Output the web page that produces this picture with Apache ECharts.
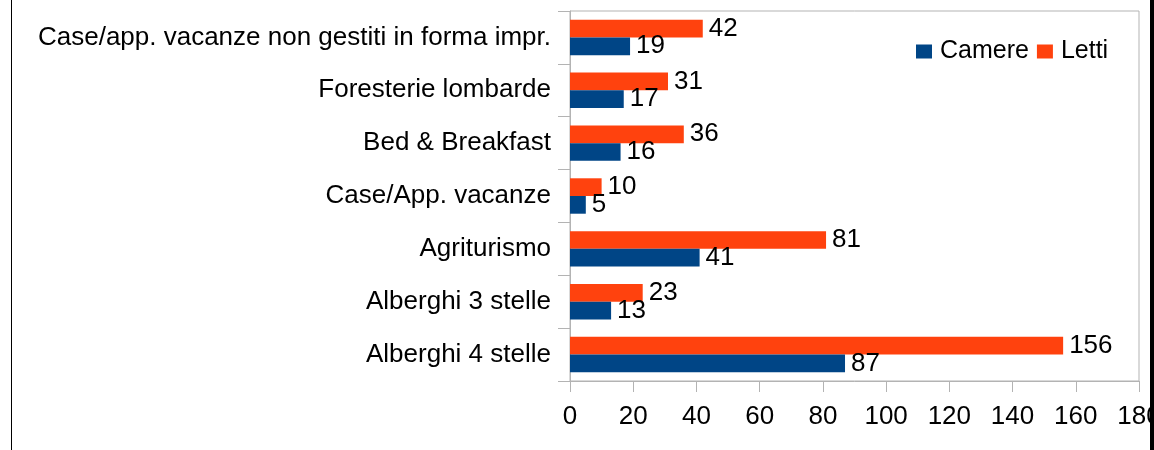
<!DOCTYPE html>
<html>
<head>
<meta charset="utf-8">
<script src="https://cdn.jsdelivr.net/npm/echarts@6/dist/echarts.min.js"></script>
<style>
html,body{margin:0;padding:0;background:#fff;width:1154px;height:450px;overflow:hidden;}
#chart{position:absolute;left:0;top:0;width:1150px;height:450px;overflow:hidden;}
#lb{position:absolute;left:11px;top:0;width:1px;height:450px;background:#000;}
#rb{position:absolute;left:1150px;top:0;width:4px;height:450px;background:#000;}
</style>
</head>
<body>
<div id="chart"></div>
<div id="lb"></div>
<div id="rb"></div>
<script>
const categories = ["Alberghi 4 stelle","Alberghi 3 stelle","Agriturismo","Case/App. vacanze","Bed & Breakfast","Foresterie lombarde","Case/app. vacanze non gestiti in forma impr."];
const camere = [87, 13, 41, 5, 16, 17, 19];
const letti = [156, 23, 81, 10, 36, 31, 42];
const seriesNames = ["Camere","Letti"];
const xTicks = {min: 0, max: 180, interval: 20};

const FONT = '"Liberation Sans", Arial, sans-serif';
const FS = 26;
const chart = echarts.init(document.getElementById('chart'), null, {renderer: 'canvas'});
const labelStyle = {show: true, position: 'right', distance: 6, color: '#000', fontSize: FS, fontFamily: FONT};
chart.setOption({
  animation: false,
  backgroundColor: '#fff',
  grid: {left: 570, right: 11, top: 11, bottom: 69, show: true, borderColor: '#b3b3b3', borderWidth: 1, containLabel: false, outerBoundsMode: 'none'},
  legend: {
    data: seriesNames, left: 911, top: 34, itemWidth: 16, itemHeight: 14, itemGap: 8,
    icon: 'rect',
    textStyle: {fontSize: 25, fontFamily: FONT, color: '#000', padding: [0,0,0,3]}
  },
  xAxis: {
    type: 'value', min: xTicks.min, max: xTicks.max, interval: xTicks.interval,
    axisLine: {show: true, lineStyle: {color: '#b3b3b3'}},
    axisTick: {show: true, length: 11, lineStyle: {color: '#b3b3b3'}},
    splitLine: {show: false},
    axisLabel: {fontSize: FS, fontFamily: FONT, color: '#000', margin: 23}
  },
  yAxis: {
    type: 'category', data: categories,
    axisLine: {show: true, lineStyle: {color: '#b3b3b3'}},
    axisTick: {show: true, length: 12, lineStyle: {color: '#b3b3b3'}},
    axisLabel: {fontSize: FS, fontFamily: FONT, color: '#000', margin: 19}
  },
  series: [
    {name: 'Letti', type: 'bar', data: letti, itemStyle: {color: '#ff420e'}, barGap: '0%', barCategoryGap: '33%', label: labelStyle},
    {name: 'Camere', type: 'bar', data: camere, itemStyle: {color: '#004586'}, barGap: '0%', barCategoryGap: '33%', label: labelStyle}
  ]
});
</script>
</body>
</html>
